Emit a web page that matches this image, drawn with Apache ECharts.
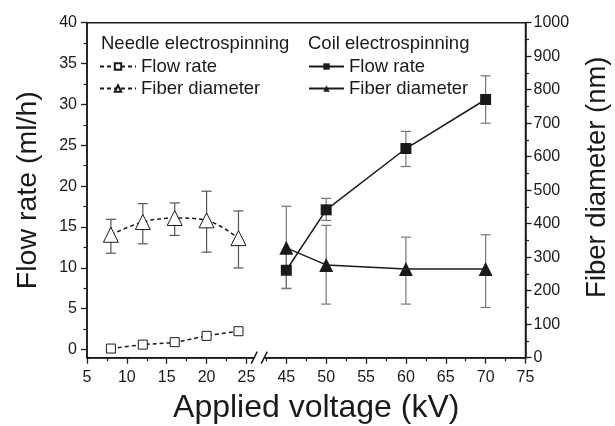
<!DOCTYPE html>
<html>
<head>
<meta charset="utf-8">
<script src="https://cdn.jsdelivr.net/npm/echarts@6/dist/echarts.min.js"></script>
<style>
  html, body { margin: 0; padding: 0; background: #fff; }
  #chart { width: 615px; height: 426px; }
</style>
</head>
<body>
<div id="chart"></div>
<script>
// needle electrospinning (kV, ml/h, nm)
var needleVoltage = [8, 12, 16, 20, 24];
var needleFlow = [0.12, 0.6, 0.9, 1.67, 2.24];
var needleDiameter = [367, 405, 417, 410, 357];
var needleDiameterLow = [312, 340, 365, 315, 268];
var needleDiameterHigh = [413, 460, 462, 497, 438];

// coil electrospinning
var coilVoltage = [45, 50, 60, 70];
var coilFlow = [9.7, 17.1, 24.6, 30.6];
var coilFlowLow = [7.5, 15.8, 22.4, 27.7];
var coilFlowHigh = [11.8, 18.5, 26.7, 33.5];
var coilDiameter = [328, 277, 265, 265];
var coilDiameterLow = [206, 160, 160, 150];
var coilDiameterHigh = [452, 395, 360, 367];

// axis ticks
var flowTicks = [0, 5, 10, 15, 20, 25, 30, 35, 40];
var flowMinorTicks = [2.5, 7.5, 12.5, 17.5, 22.5, 27.5, 32.5, 37.5];
var breakFrom = 25, breakTo = 45, breakShift = 15; // 25..45 cut out of the x axis

var FONT = 'Liberation Sans, Arial, sans-serif';
var INK = '#1a1a1a';

function axisX(v) { return v > breakFrom ? v - breakShift : v; }

function points(xs, ys) {
  return xs.map(function (x, i) { return [axisX(x), ys[i]]; });
}
function bars(xs, lo, hi) {
  return xs.map(function (x, i) { return [axisX(x), lo[i], hi[i]]; });
}

function errorBar(params, api) {
  var top = api.coord([api.value(0), api.value(2)]);
  var bot = api.coord([api.value(0), api.value(1)]);
  var c = api.visual('color');
  var st = { stroke: c, lineWidth: 1.2 };
  return {
    type: 'group',
    children: [
      { type: 'line', shape: { x1: top[0], y1: top[1], x2: bot[0], y2: bot[1] }, style: st },
      { type: 'line', shape: { x1: top[0] - 5, y1: top[1], x2: top[0] + 5, y2: top[1] }, style: st },
      { type: 'line', shape: { x1: bot[0] - 5, y1: bot[1], x2: bot[0] + 5, y2: bot[1] }, style: st }
    ]
  };
}

function breakMark(params, api) {
  var p = api.coord([api.value(0), api.value(1)]);
  var st = { stroke: INK, lineWidth: 1.5 };
  return {
    type: 'group',
    children: [
      { type: 'rect', shape: { x: p[0] - 5, y: p[1] - 2, width: 10, height: 4 }, style: { fill: '#fff' } },
      { type: 'line', shape: { x1: p[0] - 8, y1: p[1] + 6, x2: p[0] - 2, y2: p[1] - 6 }, style: st },
      { type: 'line', shape: { x1: p[0] + 2, y1: p[1] + 6, x2: p[0] + 8, y2: p[1] - 6 }, style: st }
    ]
  };
}

var chart = echarts.init(document.getElementById('chart'));

var titleText = { fontFamily: FONT, fontSize: 18.5, fontWeight: 'normal', color: INK };
var legendText = { fontFamily: FONT, fontSize: 18.5, color: INK };

var option = {
  animation: false,
  textStyle: { fontFamily: FONT, color: INK },
  grid: {
    left: 87, right: 89.5, top: 22.7, bottom: 68.3,
    outerBoundsMode: 'none',
    show: true, borderColor: INK, borderWidth: 1.5, backgroundColor: 'transparent'
  },
  title: [
    { text: 'Needle electrospinning', left: 96, top: 29, textStyle: titleText },
    { text: 'Coil electrospinning', left: 303, top: 29, textStyle: titleText }
  ],
  legend: [
    {
      data: ['Needle Flow rate', 'Needle Fiber diameter'],
      orient: 'vertical', left: 94, top: 52, itemWidth: 36, itemHeight: 8, itemGap: 3,
      formatter: function (n) { return n.replace(/^Needle /, ''); },
      textStyle: legendText
    },
    {
      data: ['Coil Flow rate', 'Coil Fiber diameter'],
      orient: 'vertical', left: 303, top: 52, itemWidth: 35, itemHeight: 8, itemGap: 3,
      formatter: function (n) { return n.replace(/^Coil /, ''); },
      textStyle: legendText
    }
  ],
  xAxis: {
    type: 'value', min: 5, max: 60, interval: 5,
    name: 'Applied voltage (kV)', nameLocation: 'middle', nameGap: 34,
    nameTextStyle: { fontFamily: FONT, fontSize: 32, color: INK, padding: [0, 0, 0, 20] },
    axisLine: { onZero: false, lineStyle: { color: INK, width: 1.5 } },
    axisTick: { length: 6, lineStyle: { color: INK, width: 1.3 } },
    minorTick: { show: true, splitNumber: 2, length: 3.5, lineStyle: { color: INK, width: 1.2 } },
    axisLabel: {
      fontFamily: FONT, fontSize: 16, color: INK, margin: 12,
      formatter: function (v) { return v > breakFrom ? v + breakShift : v; }
    },
    splitLine: { show: false }
  },
  yAxis: [
    {
      type: 'value', position: 'left', min: -1, max: 40,
      name: 'Flow rate (ml/h)', nameLocation: 'middle', nameGap: 44,
      nameTextStyle: { fontFamily: FONT, fontSize: 28.5, color: INK },
      axisLine: { show: true, onZero: false, lineStyle: { color: INK, width: 1.5 } },
      axisTick: { show: true, length: 6, customValues: flowTicks, lineStyle: { color: INK, width: 1.3 } },
      axisLabel: { fontFamily: FONT, fontSize: 16, color: INK, margin: 10, customValues: flowTicks },
      splitLine: { show: false }
    },
    {
      type: 'value', position: 'right', min: 0, max: 1000, interval: 100,
      name: 'Fiber diameter (nm)', nameLocation: 'middle', nameGap: 58,
      nameTextStyle: { fontFamily: FONT, fontSize: 27.5, color: INK, padding: [0, 0, 0, 26] },
      axisLine: { show: true, onZero: false, lineStyle: { color: INK, width: 1.5 } },
      axisTick: { show: true, length: 6, lineStyle: { color: INK, width: 1.3 } },
      minorTick: { show: true, splitNumber: 2, length: 3.5, lineStyle: { color: INK, width: 1.2 } },
      axisLabel: {
        fontFamily: FONT, fontSize: 16, color: INK, margin: 8,
        formatter: function (v) { return String(v); }
      },
      splitLine: { show: false }
    },
    {
      type: 'value', position: 'left', min: -1, max: 40,
      axisLine: { show: false, onZero: false },
      axisTick: { show: true, length: 3.5, customValues: flowMinorTicks, lineStyle: { color: INK, width: 1.2 } },
      axisLabel: { show: false },
      splitLine: { show: false }
    }
  ],
  series: [
    {
      type: 'custom', yAxisIndex: 1, z: 1, renderItem: errorBar,
      itemStyle: { color: '#555' },
      data: bars(needleVoltage, needleDiameterLow, needleDiameterHigh)
    },
    {
      type: 'custom', yAxisIndex: 0, z: 1, renderItem: errorBar,
      itemStyle: { color: '#777' },
      data: bars(coilVoltage, coilFlowLow, coilFlowHigh)
    },
    {
      type: 'custom', yAxisIndex: 1, z: 1, renderItem: errorBar,
      itemStyle: { color: '#777' },
      data: bars(coilVoltage, coilDiameterLow, coilDiameterHigh)
    },
    {
      name: 'Needle Flow rate', type: 'line', yAxisIndex: 0, z: 3, smooth: 0.35,
      symbol: 'rect', symbolSize: 9,
      itemStyle: { color: '#fff', borderColor: INK, borderWidth: 1 },
      lineStyle: { color: INK, width: 1.5, type: [4, 3] },
      data: points(needleVoltage, needleFlow)
    },
    {
      name: 'Needle Fiber diameter', type: 'line', yAxisIndex: 1, z: 3, smooth: 0.35,
      symbol: 'triangle', symbolSize: 15,
      itemStyle: { color: '#fff', borderColor: INK, borderWidth: 1 },
      lineStyle: { color: INK, width: 1.5, type: [4, 3] },
      data: points(needleVoltage, needleDiameter)
    },
    {
      name: 'Coil Flow rate', type: 'line', yAxisIndex: 0, z: 3,
      symbol: 'rect', symbolSize: 11,
      itemStyle: { color: INK },
      lineStyle: { color: INK, width: 1.5 },
      data: points(coilVoltage, coilFlow)
    },
    {
      name: 'Coil Fiber diameter', type: 'line', yAxisIndex: 1, z: 3,
      symbol: 'triangle', symbolSize: 14,
      itemStyle: { color: INK },
      lineStyle: { color: INK, width: 1.5 },
      data: points(coilVoltage, coilDiameter)
    },
    {
      type: 'custom', yAxisIndex: 0, z: 5, clip: false, silent: true,
      renderItem: breakMark,
      data: [[26.6, -1]]
    }
  ]
};

chart.setOption(option);
</script>
</body>
</html>
